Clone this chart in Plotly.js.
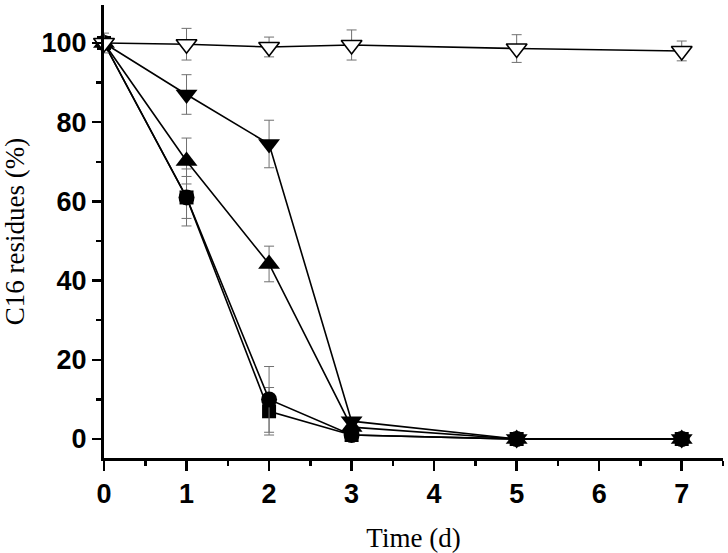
<!DOCTYPE html>
<html>
<head>
<meta charset="utf-8">
<script src="https://cdn.plot.ly/plotly-3.0.1.min.js"></script>
<style>html,body{margin:0;padding:0;background:#fff;}#chart{width:728px;height:553px;}</style>
</head>
<body>
<div id="chart"></div>
<script>
const days = [0, 1, 2, 3, 5, 7];

const openDownVals = [100, 99.7, 99, 99.5, 98.6, 98];
const openDownErr  = [2.5, 4, 2.5, 3.8, 3.5, 2.5];

const filledDownVals = [100, 87, 74.5, 4.5, 0, 0];
const filledDownErr  = [0, 5, 6, 0, 0, 0];

const upVals = [100, 70.2, 44.2, 3, 0, 0];
const upErr  = [0, 5.8, 4.5, 0, 0, 0];

const circleVals = [100, 61, 10, 1, 0, 0];
const circleErr  = [0, 7.2, 8.3, 0, 0, 0];

const squareVals = [100, 61, 7, 1, 0, 0];
const squareErr  = [0, 5.3, 6, 0, 0, 0];

const xTicks = [0, 1, 2, 3, 4, 5, 6, 7];
const yTicks = [0, 20, 40, 60, 80, 100];

function series(vals, errs, symbol, size, fill) {
  return {
    x: days, y: vals, type: 'scatter', mode: 'lines+markers',
    cliponaxis: false,
    line: {color: '#000', width: 1.6},
    marker: {symbol: symbol, size: size, color: fill ? '#000' : '#fff',
             line: {color: '#000', width: fill ? 0 : 1.6}},
    error_y: {type: 'data', array: errs, visible: true, color: '#707070', thickness: 1, width: 5}
  };
}

const data = [
  series(squareVals, squareErr, 'square', 14, true),
  series(circleVals, circleErr, 'circle', 16, true),
  series(upVals, upErr, 'triangle-up', 19, true),
  series(filledDownVals, filledDownErr, 'triangle-down', 19, true),
  series(openDownVals, openDownErr, 'triangle-down', 18, false)
];

const layout = {
  width: 728, height: 553,
  margin: {l: 104, r: 5, t: 5, b: 95},
  paper_bgcolor: '#fff', plot_bgcolor: '#fff',
  showlegend: false,
  xaxis: {
    range: [0, 7.5], tickvals: xTicks, ticktext: xTicks.map(String),
    showgrid: false, zeroline: false,
    showline: true, linecolor: '#000', linewidth: 3,
    ticks: 'outside', ticklen: 10, tickwidth: 2.5, tickcolor: '#000',
    minor: {dtick: 0.5, tick0: 0, ticks: 'outside', ticklen: 5, tickwidth: 2.5, tickcolor: '#000'},
    tickfont: {family: 'Liberation Sans, Arial, sans-serif', size: 27, color: '#000', weight: 700},
    title: {text: 'Time (d)', font: {family: 'Liberation Serif, Times New Roman, serif', size: 27, color: '#000'}, standoff: 20},
    automargin: false, fixedrange: true
  },
  yaxis: {
    range: [-4.8, 109.6], tickvals: yTicks, ticktext: yTicks.map(String),
    showgrid: false, zeroline: false,
    showline: true, linecolor: '#000', linewidth: 3,
    ticks: 'outside', ticklen: 9, tickwidth: 2.5, tickcolor: '#000',
    minor: {tickvals: [10, 30, 50, 70, 90], ticks: 'outside', ticklen: 5, tickwidth: 2.5, tickcolor: '#000'},
    tickfont: {family: 'Liberation Sans, Arial, sans-serif', size: 27, color: '#000', weight: 700},
    title: {text: 'C16 residues (%)', font: {family: 'Liberation Serif, Times New Roman, serif', size: 27, color: '#000'}, standoff: 19},
    automargin: false, fixedrange: true
  }
};

Plotly.newPlot('chart', data, layout, {staticPlot: true, displayModeBar: false});
</script>
</body>
</html>
